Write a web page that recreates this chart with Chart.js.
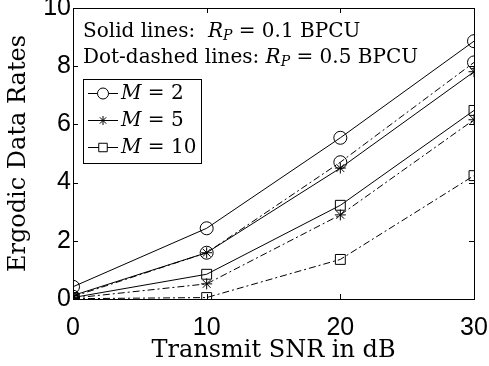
<!DOCTYPE html>
<html>
<head>
<meta charset="utf-8">
<script src="https://cdn.jsdelivr.net/npm/chart.js@4.4.1/dist/chart.umd.min.js"></script>
<style>
  body { margin: 0; background: #fff; }
  #wrap { width: 489px; height: 366px; }
</style>
</head>
<body>
<div id="wrap"><canvas id="rateChart" width="489" height="366"></canvas></div>
<script>
// x values (dB) and rates
const snr = [0, 10, 20, 30];
const m2Solid = [0.42, 2.43, 5.54, 8.86];
const m5Solid = [0.12, 1.59, 4.50, 7.81];
const m10Solid = [0.05, 0.85, 3.22, 6.48];
const m2Dash = [0.08, 1.59, 4.70, 8.13];
const m5Dash = [0.03, 0.52, 2.89, 6.16];
const m10Dash = [0.01, 0.05, 1.36, 4.24];
const legendLabels = ["2", "5", "10"];

const serif = "'DejaVu Serif', 'Liberation Serif', serif";
const sans = "'Liberation Sans', Arial, sans-serif";
const dashDot = [7, 3, 2, 3];

const styles = [
    { pointStyle: "circle", radius: 6.5 },
    { pointStyle: "star", radius: 5.5 },
    { pointStyle: "rect", radius: 7 },
];

function makeSet(label, values, idx, dashed) {
    return {
        label,
        data: snr.map((x, i) => ({ x, y: values[i] })),
        borderColor: "#000",
        backgroundColor: "rgba(0,0,0,0)",
        borderWidth: 1,
        borderDash: dashed ? dashDot : [],
        pointStyle: styles[idx].pointStyle,
        pointRadius: styles[idx].radius,
        pointBorderWidth: 1,
        pointBorderColor: "#000",
        pointBackgroundColor: "rgba(0,0,0,0)",
        tension: 0,
    };
}

const datasets = [
    makeSet("M = 2", m2Solid, 0, false),
    makeSet("M = 5", m5Solid, 1, false),
    makeSet("M = 10", m10Solid, 2, false),
    makeSet("M = 2 dd", m2Dash, 0, true),
    makeSet("M = 5 dd", m5Dash, 1, true),
    makeSet("M = 10 dd", m10Dash, 2, true),
];

// draw a string made of pieces with their own font and baseline shift
function drawPieces(ctx, x, y, pieces) {
    pieces.forEach((p) => {
        ctx.font = p.font;
        ctx.fillText(p.t, x, y + (p.dy || 0));
        x += ctx.measureText(p.t).width;
    });
    return x;
}

const framePlugin = {
    id: "frame",
    afterDraw(chart) {
        const { ctx, chartArea: a, scales } = chart;
        ctx.save();
        ctx.strokeStyle = "#000";
        ctx.lineWidth = 1;
        ctx.strokeRect(Math.round(a.left) + 0.5, Math.round(a.top) + 0.5,
            Math.round(a.right - a.left), Math.round(a.bottom - a.top));

        // inward ticks on all four sides
        const tl = 5;
        ctx.beginPath();
        scales.x.ticks.forEach((t) => {
            const px = Math.round(scales.x.getPixelForValue(t.value)) + 0.5;
            ctx.moveTo(px, a.bottom); ctx.lineTo(px, a.bottom - tl);
            ctx.moveTo(px, a.top); ctx.lineTo(px, a.top + tl);
        });
        scales.y.ticks.forEach((t) => {
            const py = Math.round(scales.y.getPixelForValue(t.value)) + 0.5;
            ctx.moveTo(a.left, py); ctx.lineTo(a.left + tl, py);
            ctx.moveTo(a.right, py); ctx.lineTo(a.right - tl, py);
        });
        ctx.stroke();

        // text notes
        ctx.fillStyle = "#000";
        ctx.textBaseline = "middle";
        ctx.textAlign = "left";
        const fs = 20;
        const up = `${fs}px ${serif}`;
        const it = `italic ${fs}px ${serif}`;
        const sub = `italic ${Math.round(fs * 0.7)}px ${serif}`;
        drawPieces(ctx, 83, 32, [
            { t: "Solid lines:  ", font: up },
            { t: "R", font: it },
            { t: "P", font: sub, dy: 4 },
            { t: " = 0.1 BPCU", font: up },
        ]);
        drawPieces(ctx, 83, 58, [
            { t: "Dot-dashed lines: ", font: up },
            { t: "R", font: it },
            { t: "P", font: sub, dy: 4 },
            { t: " = 0.5 BPCU", font: up },
        ]);

        // legend box
        const bx = 83.5, by = 79.5, bw = 118, bh = 84;
        ctx.fillStyle = "#fff";
        ctx.fillRect(bx, by, bw, bh);
        ctx.strokeRect(bx, by, bw, bh);
        legendLabels.forEach((lab, i) => {
            const ly = 93 + i * 27;
            const ds = chart.data.datasets[i];
            ctx.beginPath();
            ctx.moveTo(88, ly + 0.5);
            ctx.lineTo(118, ly + 0.5);
            ctx.stroke();
            ctx.fillStyle = "#fff";
            Chart.helpers.drawPoint(ctx, {
                pointStyle: ds.pointStyle,
                radius: ds.pointRadius - 1,
                borderWidth: 1,
            }, 103, ly + 0.5);
            ctx.fillStyle = "#000";
            drawPieces(ctx, 121, ly + 1, [
                { t: "M", font: `italic 20px ${serif}` },
                { t: " = " + lab, font: `20px ${serif}` },
            ]);
        });
        ctx.restore();
    },
};

new Chart(document.getElementById("rateChart"), {
    type: "line",
    data: { datasets },
    options: {
        responsive: false,
        devicePixelRatio: 1,
        animation: false,
        layout: { padding: { top: 8, right: 0, left: 0, bottom: 0 } },
        plugins: {
            legend: { display: false },
            tooltip: { enabled: false },
        },
        scales: {
            x: {
                type: "linear",
                min: 0,
                max: 30,
                ticks: { stepSize: 10, color: "#000", font: { family: sans, size: 25 }, padding: 14, maxRotation: 0 },
                grid: { display: false, drawTicks: false },
                border: { display: false },
                title: { display: true, text: "Transmit SNR in dB", color: "#000", font: { family: serif, size: 24 }, padding: { top: 0, bottom: 1 } },
                afterFit: (s) => {
                    s.height = 67;
                    s.paddingLeft = 0;
                    s.paddingRight = 15;
                },
            },
            y: {
                min: 0,
                max: 10,
                ticks: { stepSize: 2, color: "#000", font: { family: sans, size: 25 }, padding: 2 },
                grid: { display: false, drawTicks: false },
                border: { display: false },
                title: { display: true, text: "Ergodic Data Rates", color: "#000", font: { family: serif, size: 24 }, padding: { top: 4, bottom: 2 } },
                afterFit: (s) => {
                    s.width = 73;
                    s.paddingTop = 0;
                    s.paddingBottom = 0;
                },
            },
        },
    },
    plugins: [framePlugin],
});
</script>
</body>
</html>
